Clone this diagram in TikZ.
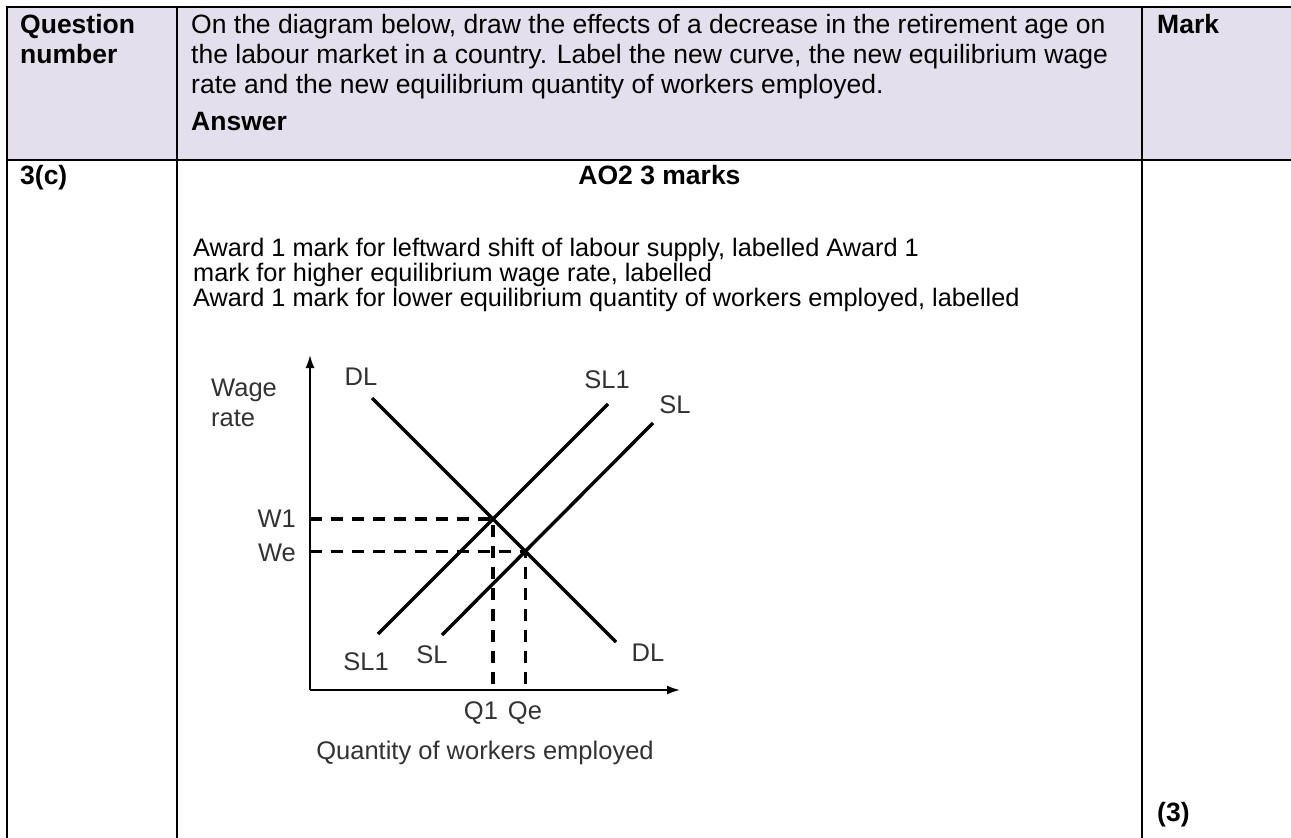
\documentclass[tikz,border=0pt]{standalone}
\usepackage{fontspec}
\setmainfont{Liberation Sans}
\usepackage{tikz}
\usetikzlibrary{arrows.meta,intersections}
\definecolor{headLilac}{RGB}{228,223,236}
\definecolor{plotGrey}{RGB}{50,50,50}

\begin{document}
\begin{tikzpicture}[
  x=1pt, y=-1pt,
  rule/.style={line width=2.8pt, black, line cap=rect},
  head/.style={font=\fontsize{26.5}{30}\selectfont, anchor=base west, inner sep=0pt, align=left},
  headb/.style={head, font=\fontsize{26.5}{30}\selectfont\bfseries},
  body/.style={font=\fontsize{25.3}{25}\selectfont, anchor=base west, inner sep=0pt, align=left},
  lbl/.style={font=\fontsize{25.5}{30}\selectfont, text=plotGrey, inner sep=0pt},
  curve/.style={line width=3.4pt},
  guide/.style={line width=3.4pt, dash pattern=on 12pt off 9pt},
  axis/.style={line width=1.8pt, -{Latex[length=13pt,width=9pt]}}
]
\useasboundingbox (0,0) rectangle (1291,838);

% table
\fill[headLilac] (7,7) rectangle (1291,160);
\draw[rule] (7,7) -- (1291,7);
\draw[rule] (7,160) -- (1291,160);
\draw[rule] (7,7) -- (7,838);
\draw[rule] (177,7) -- (177,838);
\draw[rule] (1142,7) -- (1142,838);

% multi-line nodes sit on the baseline of their last line
\node[headb] (qnum) at (20,63) {Question\\number};
\node[head] (qtext) at (191,93) {On the diagram below, draw the effects of a decrease in the retirement age on\\the labour market in a country. Label the new curve, the new equilibrium wage\\rate and the new equilibrium quantity of workers employed.};
\node[headb] (answer) at (191,130) {Answer};
\node[headb] (markhd) at (1157,33) {Mark};

\node[headb] (part) at (20,184) {3(c)};
\node[headb, anchor=base] (ao) at (659.5,184) {AO2 3 marks};
\node[body] (award) at (193,306) {Award 1 mark for leftward shift of labour supply, labelled Award 1\\mark for higher equilibrium wage rate, labelled\\Award 1 mark for lower equilibrium quantity of workers employed, labelled};
\node[headb] (total) at (1157,821) {(3)};

% labour market
\coordinate (o) at (310,690);
\coordinate (ytop) at (310,355);
\coordinate (xend) at (680,690);
\coordinate (dlA) at (372,398);
\coordinate (dlB) at (616,642);
\coordinate (sloneA) at (378,634);
\coordinate (sloneB) at (608,404);
\coordinate (slA) at (442,635);
\coordinate (slB) at (653,423);

\draw[axis] (o) -- (ytop);
\draw[axis] (o) -- (xend);
\draw[curve, name path=dl] (dlA) -- (dlB);
\draw[curve, name path=slone] (sloneA) -- (sloneB);
\draw[curve, name path=sl] (slA) -- (slB);

\path[name intersections={of=dl and slone, by=eqNew}];
\path[name intersections={of=dl and sl, by=eqOld}];

\draw[guide] (eqNew -| o) -- (eqNew) -- (eqNew |- o);
\draw[guide] (eqOld -| o) -- (eqOld) -- (eqOld |- o);

\node[lbl, anchor=base west, align=left] (wage) at (211,426) {Wage\\rate};
\node[lbl] (dlTop) at (361,377) {DL};
\node[lbl] (sloneTop) at (607,380) {SL1};
\node[lbl] (slTop) at (675,405) {SL};
\node[lbl] (sloneBot) at (366,662) {SL1};
\node[lbl] (slBot) at (432,655) {SL};
\node[lbl] (dlBot) at (648,653) {DL};
\node[lbl, anchor=east] (wOne) at ([xshift=-14pt]eqNew -| o) {W1};
\node[lbl, anchor=east] (wE) at ([xshift=-14pt,yshift=-2pt]eqOld -| o) {We};
\node[lbl] (qOne) at (481,713) {Q1};
\node[lbl] (qE) at (525,713) {Qe};
\node[lbl] (qaxis) at (485,753) {Quantity of workers employed};

\end{tikzpicture}
\end{document}
